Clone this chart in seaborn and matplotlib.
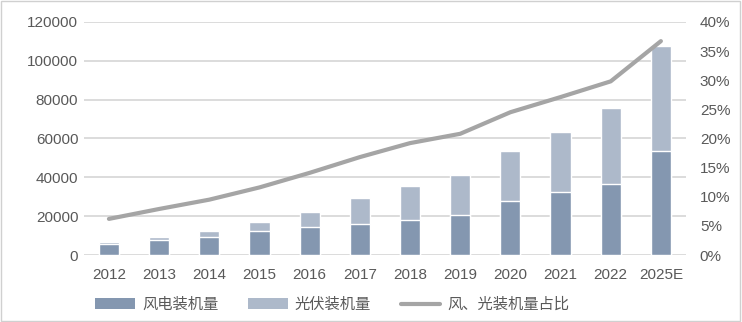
import matplotlib
matplotlib.use("Agg")
import matplotlib.pyplot as plt
import seaborn as sns
import pandas as pd
import numpy as np
from matplotlib.patches import Rectangle, Patch
from matplotlib.lines import Line2D

years = ["2012", "2013", "2014", "2015", "2016", "2017", "2018",
         "2019", "2020", "2021", "2022", "2025E"]
wind = [5800, 7500, 9400, 12500, 14600, 16100, 18200,
        20700, 28000, 32600, 36700, 53700]
solar = [1000, 1900, 3100, 4600, 7700, 13400, 17500,
         20600, 25700, 30900, 39200, 54100]
share = [6.2, 7.9, 9.5, 11.6, 14.1, 16.8, 19.2,
         20.8, 24.5, 27.1, 29.8, 36.7]

label_wind = "风电装机量"
label_solar = "光伏装机量"
label_share = "风、光装机量占比"

sns.set_theme(style="white")
plt.rcParams["font.family"] = ["Liberation Sans", "Noto Sans CJK SC", "DejaVu Sans"]

c_wind = "#8497B0"
c_solar = "#ADB9CA"
c_line = "#A5A5A5"
c_text = "#595959"
c_grid = "#D9D9D9"

df = pd.DataFrame({"year": years, "wind": wind, "solar": solar, "share": share})
df["total"] = df["wind"] + df["solar"]

fig = plt.figure(figsize=(7.42, 3.22), dpi=100)
ax = fig.add_axes([0.113, 0.208, 0.8115, 0.724])

sns.barplot(data=df, x="year", y="total", color=c_solar, width=0.4,
            saturation=1, ax=ax, zorder=2)
sns.barplot(data=df, x="year", y="wind", color=c_wind, width=0.4,
            saturation=1, ax=ax, zorder=3)

ax.set_xlim(-0.5, len(years) - 0.5)
ax.set_ylim(0, 120000)
ax.set_yticks(np.arange(0, 120001, 20000))
ax.yaxis.grid(True, color=c_grid, linewidth=1.3, zorder=0)
ax.set_axisbelow(True)
for s in ax.spines.values():
    s.set_visible(False)
ax.set_xlabel("")
ax.set_ylabel("")
ax.tick_params(axis="both", length=0, labelsize=11, colors=c_text, pad=4)
ax.tick_params(axis="x", pad=9)

ax2 = ax.twinx()
sns.lineplot(x=np.arange(len(years)), y=df["share"].values, ax=ax2,
             color=c_line, linewidth=3, zorder=4)
ax2.set_ylim(0, 40)
ax2.set_yticks(np.arange(0, 41, 5))
ax2.set_yticklabels([f"{v}%" for v in range(0, 41, 5)])
for s in ax2.spines.values():
    s.set_visible(False)
ax2.tick_params(axis="y", length=0, labelsize=11, colors=c_text, pad=10)
ax2.set_ylabel("")
ax2.grid(False)

handles = [
    Patch(facecolor=c_wind, edgecolor="none"),
    Patch(facecolor=c_solar, edgecolor="none"),
    Line2D([0], [0], color=c_line, linewidth=3),
]
fig.legend(handles, [label_wind, label_solar, label_share],
           loc="lower center", bbox_to_anchor=(0.448, -0.015), ncol=3,
           frameon=False, handlelength=2.6, handleheight=0.7,
           columnspacing=1.95, handletextpad=0.45,
           prop={"family": ["Noto Sans CJK SC", "DejaVu Sans"], "size": 11},
           labelcolor=c_text)

fig.patches.append(Rectangle((0.002, 0.003), 0.995, 0.993, transform=fig.transFigure,
                             fill=False, edgecolor="#D0D0D0", linewidth=1))

fig.savefig("out.png", dpi=100)
